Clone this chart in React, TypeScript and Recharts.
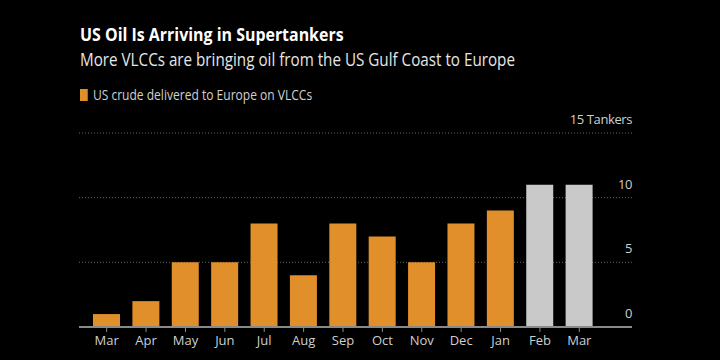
import { BarChart, Bar, Cell, XAxis, YAxis, CartesianGrid } from "recharts";

const months = ["Mar", "Apr", "May", "Jun", "Jul", "Aug", "Sep", "Oct", "Nov", "Dec", "Jan", "Feb", "Mar"];
const tankers = [1, 2, 5, 5, 8, 4, 8, 7, 5, 8, 9, 11, 11];
const projected = [false, false, false, false, false, false, false, false, false, false, false, true, true];
const yTicks = [0, 5, 10, 15];

const ORANGE = "#e08f2a";
const GREY = "#c9c9c9";
const FONT = "'Open Sans', sans-serif";

const data = months.map((m, i) => ({ key: `${m}-${i}`, month: m, value: tankers[i], projected: projected[i] }));

const YTick = (props: any) => {
  const { x, y, payload } = props;
  const label = payload.value === 15 ? "15 Tankers" : String(payload.value);
  return (
    <text x={x} y={y - 9} textAnchor="end" fill="#cfcfcf" fontSize={13} fontFamily={FONT} letterSpacing={-0.4}>
      {label}
    </text>
  );
};

const squeeze = (s: number) => ({ transform: `scaleX(${s})`, transformOrigin: "0 0", whiteSpace: "nowrap" as const });

export default function App() {
  return (
    <div style={{ position: "fixed", left: 0, top: 0, width: 720, height: 360, background: "#000", fontFamily: FONT, overflow: "hidden" }}>
      <div style={{ position: "absolute", left: 80, top: 24, lineHeight: "20px", color: "#fff", fontWeight: 700, fontSize: 18, ...squeeze(0.885) }}>
        US Oil Is Arriving in Supertankers
      </div>
      <div style={{ position: "absolute", left: 80, top: 49, lineHeight: "20px", color: "#e6e6e6", fontSize: 18, ...squeeze(0.845) }}>
        More VLCCs are bringing oil from the US Gulf Coast to Europe
      </div>
      <div style={{ position: "absolute", left: 80, top: 87, lineHeight: "16px", color: "#d0d0d0", fontSize: 14, display: "flex", alignItems: "center", ...squeeze(0.86) }}>
        <span style={{ display: "inline-block", width: 9, height: 12, background: ORANGE, marginRight: 6 }} />
        US crude delivered to Europe on VLCCs
      </div>
      <div style={{ position: "absolute", left: 0, top: 0 }}>
        <BarChart width={720} height={360} data={data} margin={{ top: 133, right: 48, bottom: 3, left: 79 }}>
          <CartesianGrid vertical={false} stroke="#666" strokeDasharray="1 2" />
          <XAxis
            dataKey="key"
            tickFormatter={(v: string) => v.split("-")[0]}
            stroke="#8a8a8a"
            strokeWidth={2}
            tickSize={5}
            tickLine={{ stroke: "#8a8a8a", strokeWidth: 1 }}
            tick={{ fill: "#cfcfcf", fontSize: 13, fontFamily: FONT }}
            tickMargin={4}
            padding={{ left: 8, right: 33 }}
            height={30}
          />
          <YAxis
            orientation="right"
            width={40}
            domain={[0, 15]}
            ticks={yTicks}
            axisLine={false}
            tickLine={false}
            tickSize={0}
            tickMargin={0}
            tick={<YTick />}
          />
          <Bar dataKey="value" barSize={27} isAnimationActive={false}>
            {data.map((d) => (
              <Cell key={d.key} fill={d.projected ? GREY : ORANGE} />
            ))}
          </Bar>
        </BarChart>
      </div>
    </div>
  );
}
